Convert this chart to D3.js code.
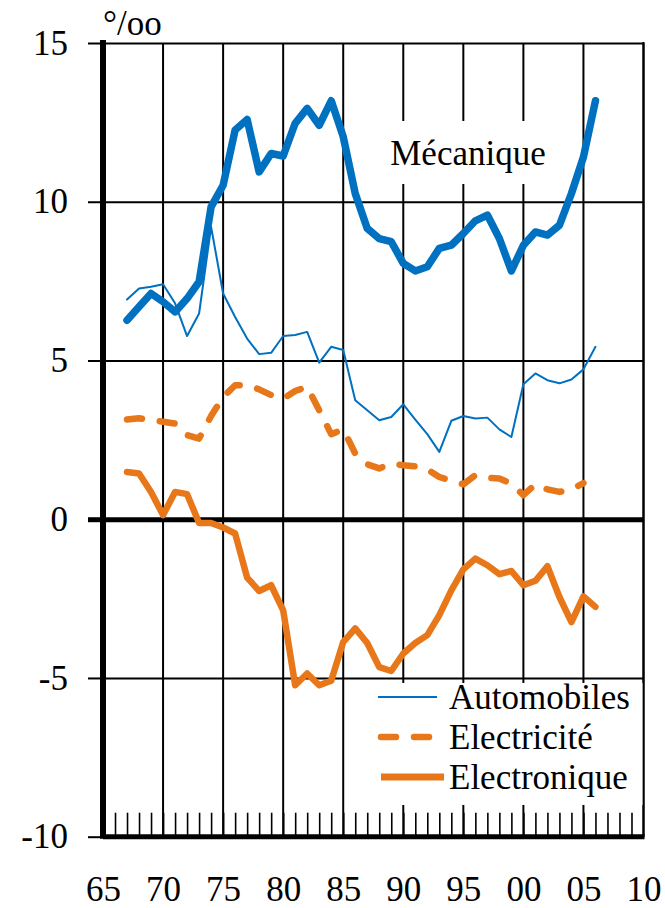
<!DOCTYPE html>
<html>
<head>
<meta charset="utf-8">
<script src="https://cdn.jsdelivr.net/npm/d3@7"></script>
<style>
  body { margin: 0; background: #fff; }
  svg { display: block; font-family: "Liberation Serif", "Times New Roman", serif; }
</style>
</head>
<body>
<div id="chart"></div>
<script>
// annees 1967 -> 2006
const years = d3.range(1967, 2007);

const mecanique = [6.27, 6.69, 7.11, 6.85, 6.53, 6.95, 7.48, 9.84, 10.52, 12.26,
                   12.59, 10.94, 11.52, 11.44, 12.47, 12.94, 12.41, 13.18, 12.05, 10.26,
                   9.16, 8.84, 8.74, 8.06, 7.82, 7.95, 8.53, 8.63, 9.0, 9.40,
                   9.58, 8.84, 7.82, 8.63, 9.05, 8.95, 9.26, 10.26, 11.41, 13.18];

const automobiles = [6.92, 7.27, 7.32, 7.40, 6.8, 5.77, 6.48, 9.21, 7.11, 6.37,
                     5.69, 5.2, 5.24, 5.77, 5.8, 5.9, 4.93, 5.43, 5.33, 3.75,
                     3.43, 3.12, 3.22, 3.62, 3.14, 2.68, 2.12, 3.10, 3.25, 3.17,
                     3.20, 2.83, 2.59, 4.25, 4.59, 4.38, 4.28, 4.40, 4.72, 5.43];

// pas de valeur 2006
const electricite = [3.14, 3.18, 3.12, 3.07, 3.01, 2.65, 2.54, 3.25, 3.85, 4.22,
                     4.22, 4.09, 3.91, 3.80, 4.04, 4.17, 3.43, 2.68, 2.83, 2.07,
                     1.73, 1.60, 1.75, 1.70, 1.67, 1.57, 1.33, 1.21, 1.10, 1.39,
                     1.31, 1.28, 1.12, 0.76, 1.10, 0.94, 0.86, 0.94, 1.14, null];

const electronique = [1.49, 1.44, 0.86, 0.13, 0.86, 0.79, -0.12, -0.12, -0.26, -0.45,
                      -1.84, -2.26, -2.08, -2.87, -5.23, -4.86, -5.23, -5.09, -3.87, -3.44,
                      -3.90, -4.66, -4.78, -4.23, -3.90, -3.65, -3.02, -2.24, -1.58, -1.24,
                      -1.45, -1.73, -1.63, -2.08, -1.94, -1.48, -2.45, -3.24, -2.43, -2.76];

const yTicks = [-10, -5, 0, 5, 10, 15];
const xTicks = [1965, 1970, 1975, 1980, 1985, 1990, 1995, 2000, 2005, 2010];

const blue = '#0070C0';
const orange = '#E8771A';

const width = 665, height = 908;

const svg = d3.select('#chart').append('svg')
    .attr('width', width)
    .attr('height', height);

const x = d3.scaleLinear().domain([1965, 2010]).range([103, 643.5]);
const y = d3.scaleLinear().domain([-10, 15]).range([836.7, 43]);

// grille verticale
svg.append('g')
    .selectAll('line')
    .data(xTicks.slice(1))
    .enter().append('line')
    .attr('x1', d => x(d)).attr('x2', d => x(d))
    .attr('y1', y(15)).attr('y2', y(-10))
    .attr('stroke', '#000').attr('stroke-width', 2);

// axe y avec grille horizontale
const yAxis = svg.append('g')
    .attr('transform', `translate(${x(1965)},0)`)
    .call(d3.axisLeft(y)
        .tickValues(yTicks)
        .tickSize(15)
        .tickPadding(20)
        .tickFormat(d => d));
yAxis.select('.domain').remove();
yAxis.selectAll('.tick line')
    .attr('x2', -15)
    .attr('stroke', '#000')
    .attr('stroke-width', 2);
yAxis.selectAll('.tick')
    .append('line')
    .attr('x1', 0)
    .attr('x2', x(2010) - x(1965))
    .attr('stroke', '#000')
    .attr('stroke-width', d => d === 0 ? 5 : 2);
yAxis.selectAll('.tick line').filter(d => d === 0).attr('stroke-width', 5);
yAxis.selectAll('text')
    .attr('font-family', '"Liberation Serif", serif')
    .attr('font-size', 35)
    .attr('fill', '#000');

// cadre droit
svg.append('line')
    .attr('x1', x(2010)).attr('x2', x(2010))
    .attr('y1', y(15) - 1).attr('y2', y(-10))
    .attr('stroke', '#000').attr('stroke-width', 2);

// boite legende (masque la grille)
svg.append('rect')
    .attr('x', x(1985) + 2)
    .attr('y', y(-5) + 5)
    .attr('width', x(2010) - x(1985) - 3)
    .attr('height', 122)
    .attr('fill', '#fff');

// boite du libelle Mecanique
svg.append('rect')
    .attr('x', 350).attr('y', 121)
    .attr('width', 228).attr('height', 63)
    .attr('fill', '#fff');

// petites graduations annuelles
const minor = svg.append('g')
    .attr('transform', `translate(0,${y(-10)})`)
    .call(d3.axisBottom(x)
        .tickValues(d3.range(1966, 2010))
        .tickSize(-24)
        .tickFormat(''));
minor.select('.domain').remove();
minor.selectAll('.tick line').attr('stroke', '#000').attr('stroke-width', 1.6);

// axe x
const xAxis = svg.append('g')
    .attr('transform', `translate(0,${y(-10)})`)
    .call(d3.axisBottom(x)
        .tickValues(xTicks)
        .tickSize(0)
        .tickFormat(d => String(d % 100).padStart(2, '0')));
xAxis.select('.domain').remove();
xAxis.selectAll('text')
    .attr('dy', null)
    .attr('y', 64)
    .attr('font-family', '"Liberation Serif", serif')
    .attr('font-size', 35)
    .attr('fill', '#000');

// axes epais
svg.append('line')
    .attr('x1', x(1965)).attr('x2', x(2010) + 1)
    .attr('y1', y(-10)).attr('y2', y(-10))
    .attr('stroke', '#000').attr('stroke-width', 5);
svg.append('line')
    .attr('x1', x(1965)).attr('x2', x(1965))
    .attr('y1', y(15) - 3).attr('y2', y(-10) + 2)
    .attr('stroke', '#000').attr('stroke-width', 6);

// courbes
const series = [
    { name: 'Automobiles', values: automobiles, color: blue, width: 2, dash: null },
    { name: 'Electricité', values: electricite, color: orange, width: 6.5, dash: '15,18' },
    { name: 'Electronique', values: electronique, color: orange, width: 6.5, dash: null },
    { name: 'Mécanique', values: mecanique, color: blue, width: 7.5, dash: null }
];

const line = d3.line()
    .defined(d => d.v !== null)
    .x(d => x(d.year))
    .y(d => y(d.v));

series.forEach(s => {
    const pts = years.map((yr, i) => ({ year: yr, v: s.values[i] }));
    svg.append('path')
        .datum(pts)
        .attr('d', line)
        .attr('fill', 'none')
        .attr('stroke', s.color)
        .attr('stroke-width', s.width)
        .attr('stroke-linejoin', 'round')
        .attr('stroke-linecap', 'round')
        .attr('stroke-dasharray', s.dash);
});

// libelles
svg.append('text')
    .attr('x', 468).attr('y', 165)
    .attr('text-anchor', 'middle')
    .attr('font-size', 35)
    .text('Mécanique');

svg.append('text')
    .attr('x', 103).attr('y', 35)
    .attr('font-size', 35)
    .text('°/oo');

// legende
const legend = svg.append('g');
const legendRows = [
    { name: 'Automobiles', color: blue, width: 2, dash: null, x1: 378, x2: 437 },
    { name: 'Electricité', color: orange, width: 6.5, dash: '15,18', x1: 381, x2: 434 },
    { name: 'Electronique', color: orange, width: 7, dash: null, x1: 381, x2: 444 }
];
legendRows.forEach((r, i) => {
    const cy = 697 + i * 40;
    legend.append('line')
        .attr('x1', r.x1).attr('x2', r.x2)
        .attr('y1', cy).attr('y2', cy)
        .attr('stroke', r.color)
        .attr('stroke-width', r.width)
        .attr('stroke-linecap', r.dash ? 'round' : 'butt')
        .attr('stroke-dasharray', r.dash);
    legend.append('text')
        .attr('x', 449).attr('y', cy + 12)
        .attr('font-size', 35)
        .text(r.name);
});
</script>
</body>
</html>
